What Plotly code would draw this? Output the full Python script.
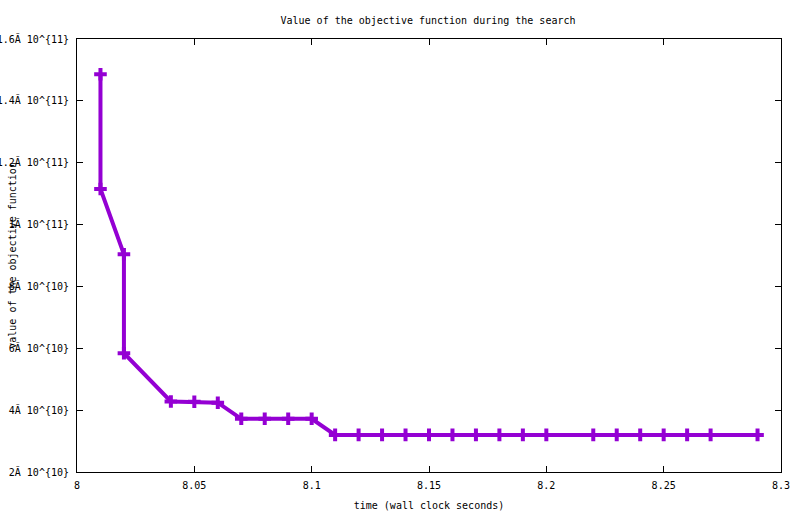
import plotly.graph_objects as go

# search trace: wall clock time vs objective value
times = [8.01, 8.01, 8.02, 8.02, 8.04, 8.05, 8.06, 8.07, 8.08, 8.09, 8.10,
         8.11, 8.12, 8.13, 8.14, 8.15, 8.16, 8.17, 8.18, 8.19, 8.20,
         8.22, 8.23, 8.24, 8.25, 8.26, 8.27, 8.29]
objective = [1.486e11, 1.115e11, 9.04e10, 5.84e10, 4.28e10, 4.27e10, 4.24e10,
             3.72e10, 3.72e10, 3.72e10, 3.72e10,
             3.2e10, 3.2e10, 3.2e10, 3.2e10, 3.2e10, 3.2e10, 3.2e10, 3.2e10,
             3.2e10, 3.2e10, 3.2e10, 3.2e10, 3.2e10, 3.2e10, 3.2e10, 3.2e10,
             3.2e10]

x_ticks = [8.0, 8.05, 8.1, 8.15, 8.2, 8.25, 8.3]
x_labels = ["8", "8.05", "8.1", "8.15", "8.2", "8.25", "8.3"]
y_ticks = [2e10, 4e10, 6e10, 8e10, 1e11, 1.2e11, 1.4e11, 1.6e11]
y_labels = ["2Ă 10^{10}", "4Ă 10^{10}", "6Ă 10^{10}", "8Ă 10^{10}",
            "1Ă 10^{11}", "1.2Ă 10^{11}", "1.4Ă 10^{11}", "1.6Ă 10^{11}"]

FONT = "DejaVu Sans Mono"
COLOR = "#9400D3"

fig = go.Figure()
fig.add_trace(
    go.Scatter(
        x=times,
        y=objective,
        mode="lines+markers",
        line={"color": COLOR, "width": 4},
        marker={
            "symbol": "cross-thin",
            "size": 9,
            "color": COLOR,
            "line": {"color": COLOR, "width": 4},
        },
        showlegend=False,
    )
)

axis_common = dict(
    showline=True,
    linecolor="black",
    linewidth=1,
    mirror="ticks",
    ticks="inside",
    ticklen=6,
    tickcolor="black",
    showgrid=False,
    zeroline=False,
    tickfont={"family": FONT, "size": 10, "color": "black"},
)

fig.update_xaxes(
    range=[8.0, 8.3],
    tickvals=x_ticks,
    ticktext=x_labels,
    ticklabelstandoff=4,
    title={"text": "time (wall clock seconds)",
           "font": {"family": FONT, "size": 10, "color": "black"},
           "standoff": 11},
    **axis_common,
)
fig.update_yaxes(
    range=[2e10, 1.6e11],
    tickvals=y_ticks,
    ticktext=y_labels,
    ticklabelstandoff=5,
    **axis_common,
)

fig.add_annotation(
    text="value of the objective function",
    xref="paper", yref="paper",
    x=-0.092, y=0.5,
    xanchor="center", yanchor="middle",
    textangle=-90,
    showarrow=False,
    font={"family": FONT, "size": 10, "color": "black"},
)

fig.update_layout(
    width=800,
    height=514,
    margin={"l": 77, "r": 19, "t": 39, "b": 42, "autoexpand": False},
    paper_bgcolor="white",
    plot_bgcolor="white",
    title={"text": "Value of the objective function during the search",
           "x": 0.535, "xanchor": "center", "y": 0.961, "yanchor": "middle",
           "font": {"family": FONT, "size": 10, "color": "black"}},
)

# drop the browser's default page margin so the figure sits at 0,0
fig.write_html(
    "out.html",
    config={"displayModeBar": False},
    post_script="document.body.style.margin = '0px';",
)
